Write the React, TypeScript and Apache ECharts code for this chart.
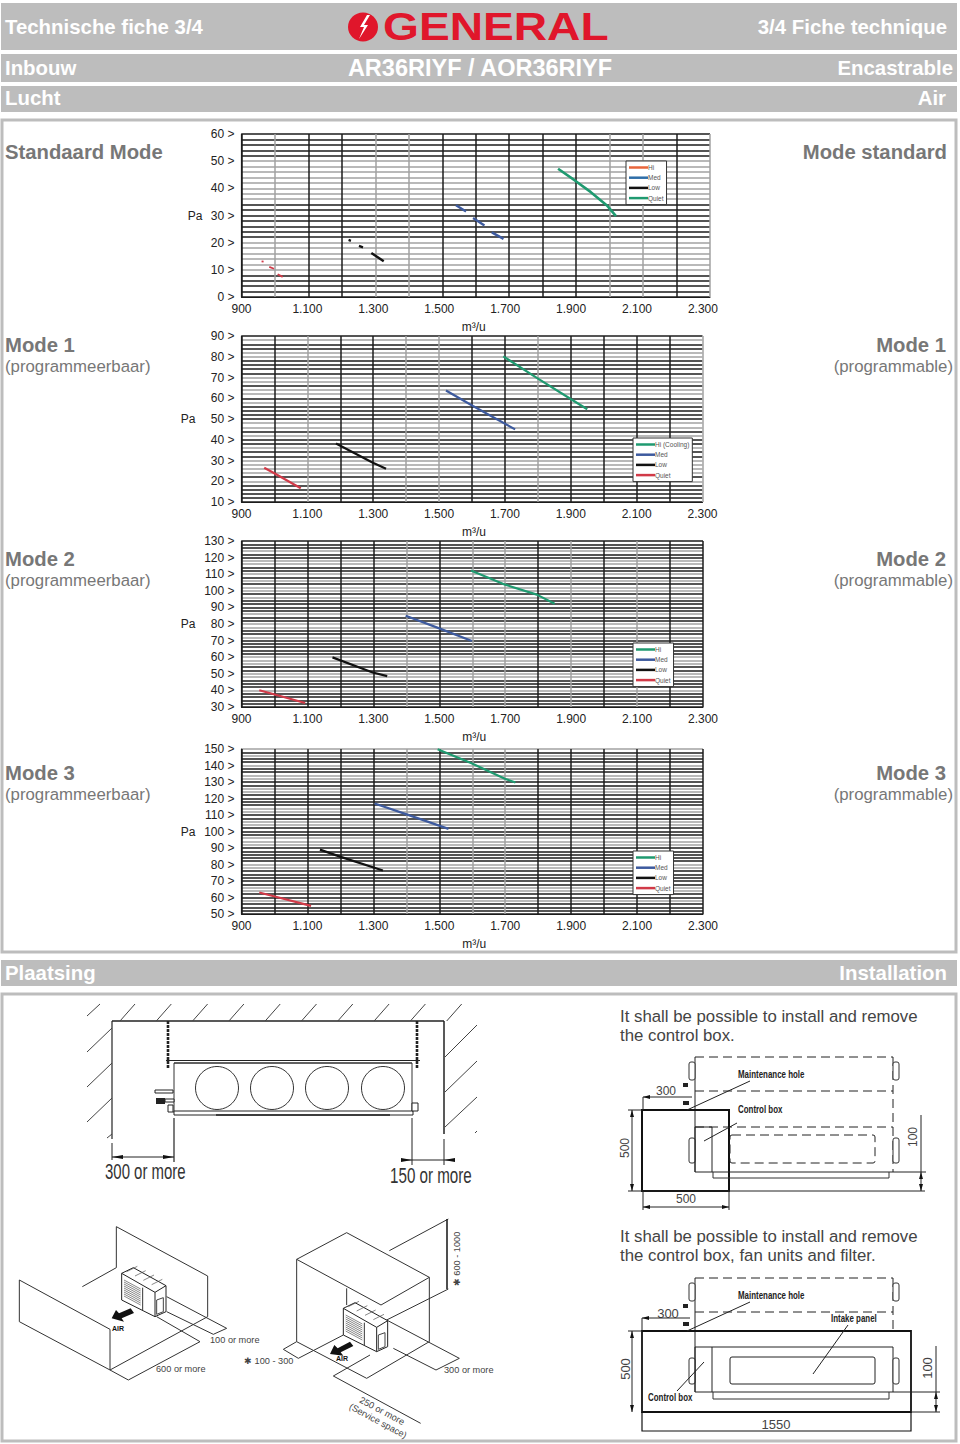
import React, { useEffect, useRef } from "react";
import * as echarts from "echarts";

// ---------- data ----------
const xTickLabels = ["900", "1.100", "1.300", "1.500", "1.700", "1.900", "2.100", "2.300"];
const legendNames1 = ["Hi", "Med", "Low", "Quiet"];
const legendNames2 = ["Hi (Cooling)", "Med", "Low", "Quiet"];
const legendNames3 = ["Hi", "Med", "Low", "Quiet"];

// [x, y] points, null breaks the line
const c1Green = [[1846, 47.2], [1895, 43], [1944, 38.6], [1992, 33.7], [2019, 29.8]];
const c1Blue = [[1541, 33.8], [1571, 31.5], [1580, null], [1592, 29.1], [1626, 26.3], [1636, null], [1648, 23.8], [1683, 21.4]];
const c1Black = [[1220, 21], [1227, 20.7], [1240, null], [1251, 18.8], [1263, 18.3], [1275, null], [1288, 16.2], [1325, 13.2]];
const c1Red = [[960, 13.1], [966, 13], [975, null], [983, 11.1], [997, 10.4], [1002, null], [1008, 8.4], [1023, 7.4]];

const c2Green = [[1695, 80.2], [1798, 69.7], [1901, 59.5], [1950, 54.7]];
const c2Blue = [[1521, 63.7], [1603, 56.3], [1731, 45]];
const c2Black = [[1187, 38.2], [1299, 28.9], [1339, 26]];
const c2Red = [[969, 26.5], [1001, 23.7], [1080, 16.6]];

const c3Green = [[1596, 112.2], [1700, 103.7], [1796, 97.7], [1850, 92.2]];
const c3Blue = [[1398, 85], [1498, 77.5], [1599, 69.8]];
const c3Black = [[1176, 59.9], [1298, 50.8], [1342, 48.6]];
const c3Red = [[954, 40.1], [1001, 37.5], [1093, 32.4]];

const c4Green = [[1495, 149.8], [1596, 141.5], [1699, 132], [1731, 129.7]];
const c4Blue = [[1304, 117], [1401, 110.4], [1528, 101.6]];
const c4Black = [[1138, 89], [1201, 84.6], [1329, 76.4]];
const c4Red = [[954, 63], [1001, 60.6], [1111, 54.9]];

// ---------- styles ----------
const K = "#1c1c1c";
const G = "#a2a2a2";
const GREEN = "#1f9a70";
const BLUE = "#3d5a9e";
const RED = "#d13a48";
const ORANGE = "#e8663c";
const BAR = "#bdbdbd";
const FONT = "'Liberation Sans', Arial, sans-serif";

// grid-line shades, K dark / G light; vertical left to right, horizontal top to bottom
const charts = [
  {
    top: 134, bottom: 297, right: 710, labelMax: 2321.5, yMin: 0, yMax: 60, nameGap: 39, namePad: [0, 4, 0, 0],
    v: "KGKKGGKKKKKGGKG",
    h: "KKKKKGGGGGGGGKKKKKKKGGGGGGKKKKK",
    series: [["Hi", c1Red, ORANGE, RED, 1.8], ["Med", c1Blue, "#2f6ea8", BLUE, 2.4], ["Low", c1Black, "#111", "#111", 2.4], ["Quiet", c1Green, GREEN, GREEN, 2.6]],
    names: legendNames1, legend: [626, 161],
  },
  {
    top: 336, bottom: 502, right: 702.5, labelMax: 2300, yMin: 10, yMax: 90, nameGap: 46, namePad: [0, 0, 0, 4],
    v: "KKGKKGGKKGKKKKG",
    h: "KGKKGGKKKKGGKGGKGKKKKGGKGKKGKKGGGGKGKKKKK",
    series: [["Hi (Cooling)", c2Green, GREEN, GREEN, 2.2], ["Med", c2Blue, BLUE, BLUE, 2.2], ["Low", c2Black, "#111", "#111", 2.2], ["Quiet", c2Red, RED, RED, 2.2]],
    names: legendNames2, legend: [633, 438],
  },
  {
    top: 541, bottom: 707, right: 703, labelMax: 2300, yMin: 30, yMax: 130, nameGap: 46, namePad: [0, 0, 0, 4],
    v: "KKKKKGKGGKGKGKK",
    h: "KKKGKKGGKKGKGKGGKGKKKKGKKGGKKGKKKKKGGGKKGGKKKGKKKKK",
    series: [["Hi", c3Green, GREEN, GREEN, 2.2], ["Med", c3Blue, BLUE, BLUE, 2.2], ["Low", c3Black, "#111", "#111", 2.2], ["Quiet", c3Red, RED, RED, 2.2]],
    names: legendNames3, legend: [633, 643],
  },
  {
    top: 749, bottom: 914, right: 703, labelMax: 2300, yMin: 50, yMax: 150, nameGap: 46, namePad: [0, 0, 0, 4],
    v: "KKKKKGKGGKKKKKK",
    h: "GKGKKGKKGGKKGGKKKKGGKKGGKKKGGGKKKKKGGKKKKKGGKKGKKKK",
    series: [["Hi", c4Green, GREEN, GREEN, 2.2], ["Med", c4Blue, BLUE, BLUE, 2.2], ["Low", c4Black, "#111", "#111", 2.2], ["Quiet", c4Red, RED, RED, 2.2]],
    names: legendNames3, legend: [633, 851],
  },
];

const shades = (s: string) => s.split("").map((c) => (c === "K" ? K : G));

function buildChartOption() {
  const grid: any[] = [], xAxis: any[] = [], yAxis: any[] = [], series: any[] = [], legend: any[] = [];
  charts.forEach((c, i) => {
    grid.push({ left: 241.5, top: c.top, width: c.right - 241.5, height: c.bottom - c.top, containLabel: false });
    // x grid-lines
    xAxis.push({
      type: "value", gridIndex: i, min: 900, max: 2300, interval: 100,
      axisLine: { show: false }, axisTick: { show: false }, axisLabel: { show: false },
      splitLine: { show: true, lineStyle: { color: shades(c.v), width: 1.5 } },
    });
    // x labels
    xAxis.push({
      type: "value", gridIndex: i, min: 900, max: c.labelMax, interval: 200, position: "bottom",
      axisLine: { show: true, onZero: false, lineStyle: { color: K, width: 1 } }, axisTick: { show: false },
      splitLine: { show: false },
      axisLabel: {
        show: true, margin: 6, fontSize: 12, fontFamily: FONT, color: "#222", showMinLabel: true,
        showMaxLabel: c.labelMax === 2300,
        formatter: (v: number) => xTickLabels[Math.round((v - 900) / 200)] ?? "",
      },
      name: "m³/u", nameLocation: "middle", nameGap: 24,
      nameTextStyle: { fontSize: 12, fontFamily: FONT, color: "#222", padding: c.namePad },
    });
    // y grid-lines, every 2 Pa
    yAxis.push({
      type: "value", gridIndex: i, min: c.yMin, max: c.yMax, interval: 2,
      axisLine: { show: false }, axisTick: { show: false }, axisLabel: { show: false },
      splitLine: { show: true, lineStyle: { color: shades(c.h).reverse(), width: 1.5 } },
    });
    // y labels
    yAxis.push({
      type: "value", gridIndex: i, min: c.yMin, max: c.yMax, interval: 10, position: "left",
      axisLine: { show: true, onZero: false, lineStyle: { color: K, width: 1.2 } }, axisTick: { show: false },
      splitLine: { show: false },
      axisLabel: {
        show: true, margin: 7, fontSize: 12, fontFamily: FONT, color: "#222",
        formatter: (v: number) => `${v} >`,
      },
      name: "Pa", nameLocation: "middle", nameRotate: 0, nameGap: c.nameGap,
      nameTextStyle: { fontSize: 12, fontFamily: FONT, color: "#222" },
    });
    c.series.forEach((s: any) => {
      series.push({
        type: "line", name: `${i}|${s[0]}`, xAxisIndex: i * 2, yAxisIndex: i * 2 + 1,
        data: s[1], symbol: "none", showSymbol: false, connectNulls: false,
        color: s[2], lineStyle: { color: s[3], width: s[4] }, itemStyle: { color: s[2] }, z: 5,
      });
    });
    legend.push({
      left: c.legend[0], top: c.legend[1], orient: "vertical", align: "left",
      data: c.series.map((s: any) => `${i}|${s[0]}`),
      icon: "rect", itemWidth: 19, itemHeight: 2.5, itemGap: 3.2,
      padding: [3, 3, 3, 3], backgroundColor: "#fff", borderColor: "#333", borderWidth: 1,
      selectedMode: false, z: 20,
      formatter: (n: string) => n.split("|")[1],
      textStyle: { fontSize: 6.5, fontFamily: FONT, color: "#555", padding: [0, 0, 0, -5] },
    });
  });
  return { grid, xAxis, yAxis, series, legend };
}

// ---------- page furniture & drawings ----------
function buildGraphics() {
  const el: any[] = [];
  const rect = (x: number, y: number, w: number, h: number, style: any, r = 0) =>
    el.push({ type: "rect", silent: true, shape: { x, y, width: w, height: h, r }, style });
  const line = (x1: number, y1: number, x2: number, y2: number, lw = 1, stroke = "#222", dash?: number[]) =>
    el.push({ type: "line", silent: true, shape: { x1, y1, x2, y2 }, style: { stroke, lineWidth: lw, lineDash: dash } });
  const poly = (pts: number[][], lw = 1, stroke = "#333") =>
    el.push({ type: "polyline", silent: true, shape: { points: pts }, style: { stroke, lineWidth: lw, fill: "none" } });
  const fillPoly = (pts: number[][], fill = "#111") =>
    el.push({ type: "polygon", silent: true, shape: { points: pts }, style: { fill } });
  const txt = (text: string, x: number, y: number, o: any = {}) =>
    el.push({
      type: "text", silent: true, x, y, rotation: o.rot || 0, scaleX: o.sx || 1,
      style: {
        text, x: 0, y: 0, fill: o.fill || "#444", fontSize: o.size || 12, fontFamily: o.family || FONT,
        fontWeight: o.weight || "normal", textAlign: o.align || "left", align: o.align || "left",
        textVerticalAlign: "middle", verticalAlign: "middle",
      },
    });

  // header bars
  rect(1, 3, 956, 47, { fill: BAR });
  rect(1, 54, 956, 28, { fill: BAR });
  rect(1, 86, 956, 26, { fill: BAR });
  rect(1, 960, 956, 26, { fill: BAR });
  const white = { fill: "#fff", weight: "bold", size: 20.4 };
  txt("Technische fiche 3/4", 5, 27, white);
  txt("3/4 Fiche technique", 947, 27, { ...white, align: "right" });
  txt("Inbouw", 5, 68, white);
  txt("AR36RIYF / AOR36RIYF", 480, 68, { ...white, size: 23.5, align: "center" });
  txt("Encastrable", 953, 68, { ...white, align: "right" });
  txt("Lucht", 5, 98, white);
  txt("Air", 946, 98, { ...white, align: "right" });
  txt("Plaatsing", 5, 973, white);
  txt("Installation", 947, 973, { ...white, align: "right" });

  // logo
  el.push({ type: "ellipse", silent: true, shape: { cx: 363, cy: 27, rx: 15, ry: 14.5 }, style: { fill: "#e0162b" } });
  fillPoly([[367, 15], [360, 27], [364, 27], [359, 39], [368, 25], [364, 25], [370, 15]], "#fff");
  txt("GENERAL", 383, 27, { fill: "#e0162b", weight: "bold", size: 38, sx: 1.215 });

  // frames
  rect(2, 120, 954, 832, { fill: "none", stroke: BAR, lineWidth: 3 });
  rect(2, 994, 954, 447, { fill: "none", stroke: BAR, lineWidth: 3 });

  // side captions
  const cap = { fill: "#777", weight: "bold", size: 20.3 };
  const sub = { fill: "#777", size: 16.8 };
  txt("Standaard Mode", 5, 152, cap);
  txt("Mode standard", 947, 152, { ...cap, align: "right" });
  [["Mode 1", 345], ["Mode 2", 559], ["Mode 3", 773]].forEach(([t, y]: any) => {
    txt(t, 5, y, cap);
    txt(t, 946, y, { ...cap, align: "right" });
    txt("(programmeerbaar)", 5, y + 21, sub);
    txt("(programmable)", 953, y + 21, { ...sub, align: "right" });
  });

  // ---- indoor unit, wall clearance ----
  line(112, 1021, 444, 1021, 1.5);
  line(112, 1021, 112, 1139, 1.2);
  line(112, 1143, 112, 1160, 1);
  line(444, 1021, 444, 1134, 1.5);
  line(444, 1139, 444, 1165, 1);
  line(87, 1016, 100, 1004, 1, "#444");
  for (let k = 0; k < 10; k++) line(120 + 36.3 * k, 1021, 135 + 36.3 * k, 1004, 1, "#444");
  [[87, 1052, 112, 1028], [87, 1087, 112, 1063], [87, 1122, 112, 1098], [107, 1138, 112, 1134],
   [445, 1057, 477, 1025], [445, 1092, 477, 1061], [445, 1127, 477, 1097], [475, 1133, 477, 1131]]
    .forEach((h) => line(h[0], h[1], h[2], h[3], 1, "#444"));
  line(168, 1021, 168, 1069, 2.6, "#222", [3, 1]);
  line(417, 1021, 417, 1069, 2.6, "#222", [3, 1]);
  line(166, 1060.5, 420, 1060.5, 1.2);
  line(174, 1063, 412, 1063, 1);
  rect(174, 1063, 238, 50, { fill: "none", stroke: "#333", lineWidth: 1 });
  rect(174, 1111, 239, 4, { fill: "#fff", stroke: "#222", lineWidth: 1 });
  line(216, 1115, 390, 1115, 1.4);
  [217, 272, 327, 383].forEach((cx) =>
    el.push({ type: "circle", silent: true, shape: { cx, cy: 1088, r: 21.5 }, style: { fill: "none", stroke: "#333", lineWidth: 1 } }));
  rect(155, 1090, 18, 3, { fill: "#fff", stroke: "#222", lineWidth: 1 });
  rect(156, 1098, 9, 6, { fill: "#222" });
  rect(165, 1099, 9, 3, { fill: "#fff", stroke: "#222", lineWidth: 1 });
  rect(168, 1105, 5, 7, { fill: "#fff", stroke: "#222", lineWidth: 1 });
  rect(412, 1103, 6, 8, { fill: "#fff", stroke: "#222", lineWidth: 1 });
  line(174, 1118, 174, 1162, 1.2);
  line(112, 1157, 174, 1157, 1);
  fillPoly([[112, 1157], [123, 1155], [123, 1159]]); fillPoly([[174, 1157], [163, 1155], [163, 1159]]);
  line(412, 1118, 412, 1165, 1);
  line(402, 1160, 453, 1160, 1);
  fillPoly([[412, 1160], [401, 1158], [401, 1162]]); fillPoly([[444, 1160], [455, 1158], [455, 1162]]);
  txt("300 or more", 105, 1171, { size: 22, sx: 0.68, fill: "#333" });
  txt("150 or more", 390, 1175, { size: 22, sx: 0.69, fill: "#333" });

  // ---- service drawing A ----
  const dash = [9, 5];
  const tall = { size: 11, sx: 0.72, fill: "#222", weight: "bold" };
  const ears = (y1: number, y2: number, y3: number, y4: number, rx: number) => {
    [[689, y1, y2], [rx, y1, y2], [689, y3, y4], [rx, y3, y4]].forEach((e) =>
      rect(e[0], e[1], 6, e[2] - e[1], { fill: "#fff", stroke: "#333", lineWidth: 1 }, 2));
  };
  txt("It shall be possible to install and remove", 620, 1016, { size: 16.8 });
  txt("the control box.", 620, 1035, { size: 16.8 });
  line(695, 1057, 893, 1057, 1, "#222", dash);
  line(695, 1091, 893, 1091, 1, "#222", dash);
  line(695, 1127, 893, 1127, 1, "#222", dash);
  line(893, 1057, 893, 1172, 1, "#222", dash);
  line(695, 1057, 695, 1172, 1);
  ears(1062, 1080, 1138, 1163, 893);
  rect(683, 1083, 5, 4, { fill: "#222" });
  rect(683, 1101, 6, 4, { fill: "#222" });
  rect(642, 1110, 87, 81, { fill: "none", stroke: "#111", lineWidth: 2 });
  rect(695, 1127, 17, 45, { fill: "none", stroke: "#222", lineWidth: 1 });
  line(712, 1172, 893, 1172, 1);
  poly([[713, 1172], [713, 1178], [889, 1178], [889, 1172]]);
  rect(730, 1135, 145, 28, { fill: "none", stroke: "#222", lineWidth: 1, lineDash: dash }, 2);
  line(628, 1191, 925, 1191, 1);
  line(893, 1172, 926, 1172, 1);
  line(921, 1115, 921, 1191, 1);
  fillPoly([[921, 1172], [919, 1179], [923, 1179]]); fillPoly([[921, 1191], [919, 1184], [923, 1184]]);
  txt("100", 913, 1137, { rot: Math.PI / 2, align: "center", size: 12 });
  txt("500", 625, 1148, { rot: Math.PI / 2, align: "center", size: 12 });
  line(632, 1110, 632, 1191, 1); line(628, 1110, 642, 1110, 1);
  fillPoly([[632, 1110], [630, 1117], [634, 1117]]); fillPoly([[632, 1191], [630, 1184], [634, 1184]]);
  txt("500", 686, 1199, { align: "center", size: 12 });
  line(643, 1207, 729, 1207, 1); line(643, 1191, 643, 1210, 1); line(729, 1191, 729, 1210, 1);
  fillPoly([[643, 1207], [650, 1205], [650, 1209]]); fillPoly([[729, 1207], [722, 1205], [722, 1209]]);
  txt("300", 666, 1091, { align: "center", size: 12 });
  line(643, 1097, 692, 1097, 1); line(643, 1097, 643, 1110, 1);
  fillPoly([[643, 1097], [650, 1095], [650, 1099]]);
  txt("Maintenance hole", 738, 1074, tall);
  line(687, 1110, 750, 1081, 1);
  txt("Control box", 738, 1109, tall);
  line(704, 1141, 737, 1123, 1);

  // ---- service drawing B ----
  txt("It shall be possible to install and remove", 620, 1236, { size: 16.8 });
  txt("the control box, fan units and filter.", 620, 1255, { size: 16.8 });
  line(695, 1278, 893, 1278, 1, "#222", dash);
  line(695, 1312, 893, 1312, 1, "#222", dash);
  line(893, 1278, 893, 1331, 1, "#222", dash);
  line(695, 1278, 695, 1331, 1);
  line(695, 1331, 695, 1392, 1);
  line(893, 1347, 893, 1392, 1);
  ears(1283, 1301, 1358, 1384, 893);
  rect(683, 1304, 5, 4, { fill: "#222" });
  rect(683, 1322, 6, 4, { fill: "#222" });
  rect(642, 1331, 269, 81, { fill: "none", stroke: "#111", lineWidth: 1.8 });
  poly([[642, 1412], [642, 1431], [911, 1431], [911, 1412]], 1.2, "#111");
  txt("1550", 776, 1424, { align: "center", size: 13 });
  rect(695, 1347, 17, 45, { fill: "none", stroke: "#222", lineWidth: 1 });
  line(712, 1347, 893, 1347, 1);
  line(712, 1392, 893, 1392, 1);
  poly([[713, 1392], [713, 1399], [889, 1399], [889, 1392]]);
  rect(730, 1357, 145, 27, { fill: "none", stroke: "#222", lineWidth: 1 }, 2);
  line(893, 1392, 940, 1392, 1); line(911, 1412, 940, 1412, 1);
  line(936, 1346, 936, 1412, 1);
  fillPoly([[936, 1392], [934, 1399], [938, 1399]]); fillPoly([[936, 1412], [934, 1405], [938, 1405]]);
  txt("100", 927, 1368, { rot: Math.PI / 2, align: "center", size: 13 });
  txt("500", 625, 1369, { rot: Math.PI / 2, align: "center", size: 13 });
  line(632, 1331, 632, 1412, 1); line(628, 1331, 642, 1331, 1);
  fillPoly([[632, 1331], [630, 1338], [634, 1338]]); fillPoly([[632, 1412], [630, 1405], [634, 1405]]);
  txt("300", 668, 1313, { align: "center", size: 13 });
  line(642, 1318, 690, 1318, 1); line(642, 1318, 642, 1331, 1);
  fillPoly([[642, 1318], [649, 1316], [649, 1320]]);
  txt("Maintenance hole", 738, 1295, tall);
  line(687, 1331, 750, 1302, 1);
  txt("Intake panel", 831, 1318, tall);
  line(813, 1374, 848, 1325, 1);
  txt("Control box", 648, 1397, tall);
  line(677, 1391, 704, 1362, 1);

  // ---- outdoor units (drawn in a 3x sketch space) ----
  const P = (pts: number[][]) => pts.map((p) => [p[0] / 3, 1215 + p[1] / 3]);
  const sk = (pts: number[][], lw = 1, stroke = "#333") => poly(P(pts), lw, stroke);
  // left scene
  sk([[349, 158], [349, 35], [623, 183], [623, 305]]);
  sk([[247, 215], [349, 158]]);
  sk([[58, 195], [330, 343], [330, 465], [58, 320], [58, 195]]);
  sk([[330, 465], [623, 305]]);
  sk([[330, 465], [385, 495], [600, 380], [470, 305]]);
  sk([[500, 290], [640, 358], [680, 340], [500, 245]]);
  const unit = (dx: number, dy: number) => {
    const U = (pts: number[][]) => pts.map((p) => [p[0] + dx, p[1] + dy]);
    fillPoly(P(U([[365, 175], [400, 158], [498, 212], [498, 290], [465, 305], [365, 255]])), "#fff");
    sk(U([[365, 175], [400, 158], [498, 212], [498, 290], [465, 305], [365, 255], [365, 175]]), 1, "#222");
    sk(U([[365, 175], [465, 232], [465, 305]]), 1, "#222");
    sk(U([[465, 232], [498, 212]]), 1, "#222");
    sk(U([[428, 218], [428, 285]]), 1, "#333");
    for (let k = 0; k < 9; k++) sk(U([[372, 195 + k * 6], [422, 222 + k * 6]]), 0.7, "#555");
    sk(U([[470, 255], [490, 248], [490, 290], [470, 298], [470, 255]]), 1, "#444");
    for (let k = 0; k < 4; k++) sk(U([[380 + k * 25, 170 + k * 13], [412 + k * 25, 154 + k * 13]]), 0.7, "#555");
  };
  unit(0, 0);
  fillPoly(P([[335, 310], [348, 285], [357, 295], [392, 280], [402, 294], [365, 310], [372, 320]]));
  txt("AIR", 118, 1328, { size: 7, weight: "bold", align: "center", fill: "#111" });
  txt("100 or more", 210, 1340, { size: 9.2, fill: "#444" });
  txt("600 or more", 156, 1369, { size: 9.2, fill: "#444" });

  // right scene
  sk([[890, 133], [1040, 53], [1288, 187], [1143, 270], [890, 133]]);
  sk([[1168, 107], [1345, 12]]);
  sk([[890, 133], [890, 380]]);
  sk([[1288, 187], [1288, 380]]);
  sk([[1040, 220], [1040, 270]]);
  sk([[890, 380], [1100, 490], [1288, 380]]);
  sk([[890, 380], [850, 403], [895, 430], [1030, 360]]);
  sk([[1160, 315], [1345, 222]]);
  sk([[1341, 12], [1341, 222]], 1.6, "#222");
  sk([[1180, 400], [1308, 465], [1378, 430], [1160, 315]]);
  sk([[1110, 420], [1000, 483], [1262, 625]]);
  unit(665, 105);
  fillPoly(P([[990, 417], [1003, 390], [1013, 400], [1050, 380], [1060, 393], [1022, 412], [1030, 422]]));
  txt("AIR", 342, 1358, { size: 7, weight: "bold", align: "center", fill: "#111" });
  txt("✱ 100 - 300", 244, 1361, { size: 9.2, fill: "#444" });
  txt("300 or more", 444, 1370, { size: 9.2, fill: "#444" });
  txt("✱ 600 - 1000", 457, 1259, { size: 9.2, fill: "#444", rot: Math.PI / 2, align: "center" });
  txt("250 or more", 382, 1411, { size: 9.2, fill: "#444", rot: -0.49, align: "center" });
  txt("(Service space)", 378, 1421, { size: 9.2, fill: "#444", rot: -0.49, align: "center" });
  return el;
}

export default function App() {
  const ref = useRef<HTMLDivElement>(null);
  useEffect(() => {
    const chart = echarts.init(ref.current!, undefined, { renderer: "svg" });
    chart.setOption({
      animation: false,
      backgroundColor: "#fff",
      ...buildChartOption(),
      graphic: { elements: buildGraphics() },
    });
    return () => chart.dispose();
  }, []);
  return <div ref={ref} style={{ position: "absolute", left: 0, top: 0, width: 960, height: 1444 }} />;
}
